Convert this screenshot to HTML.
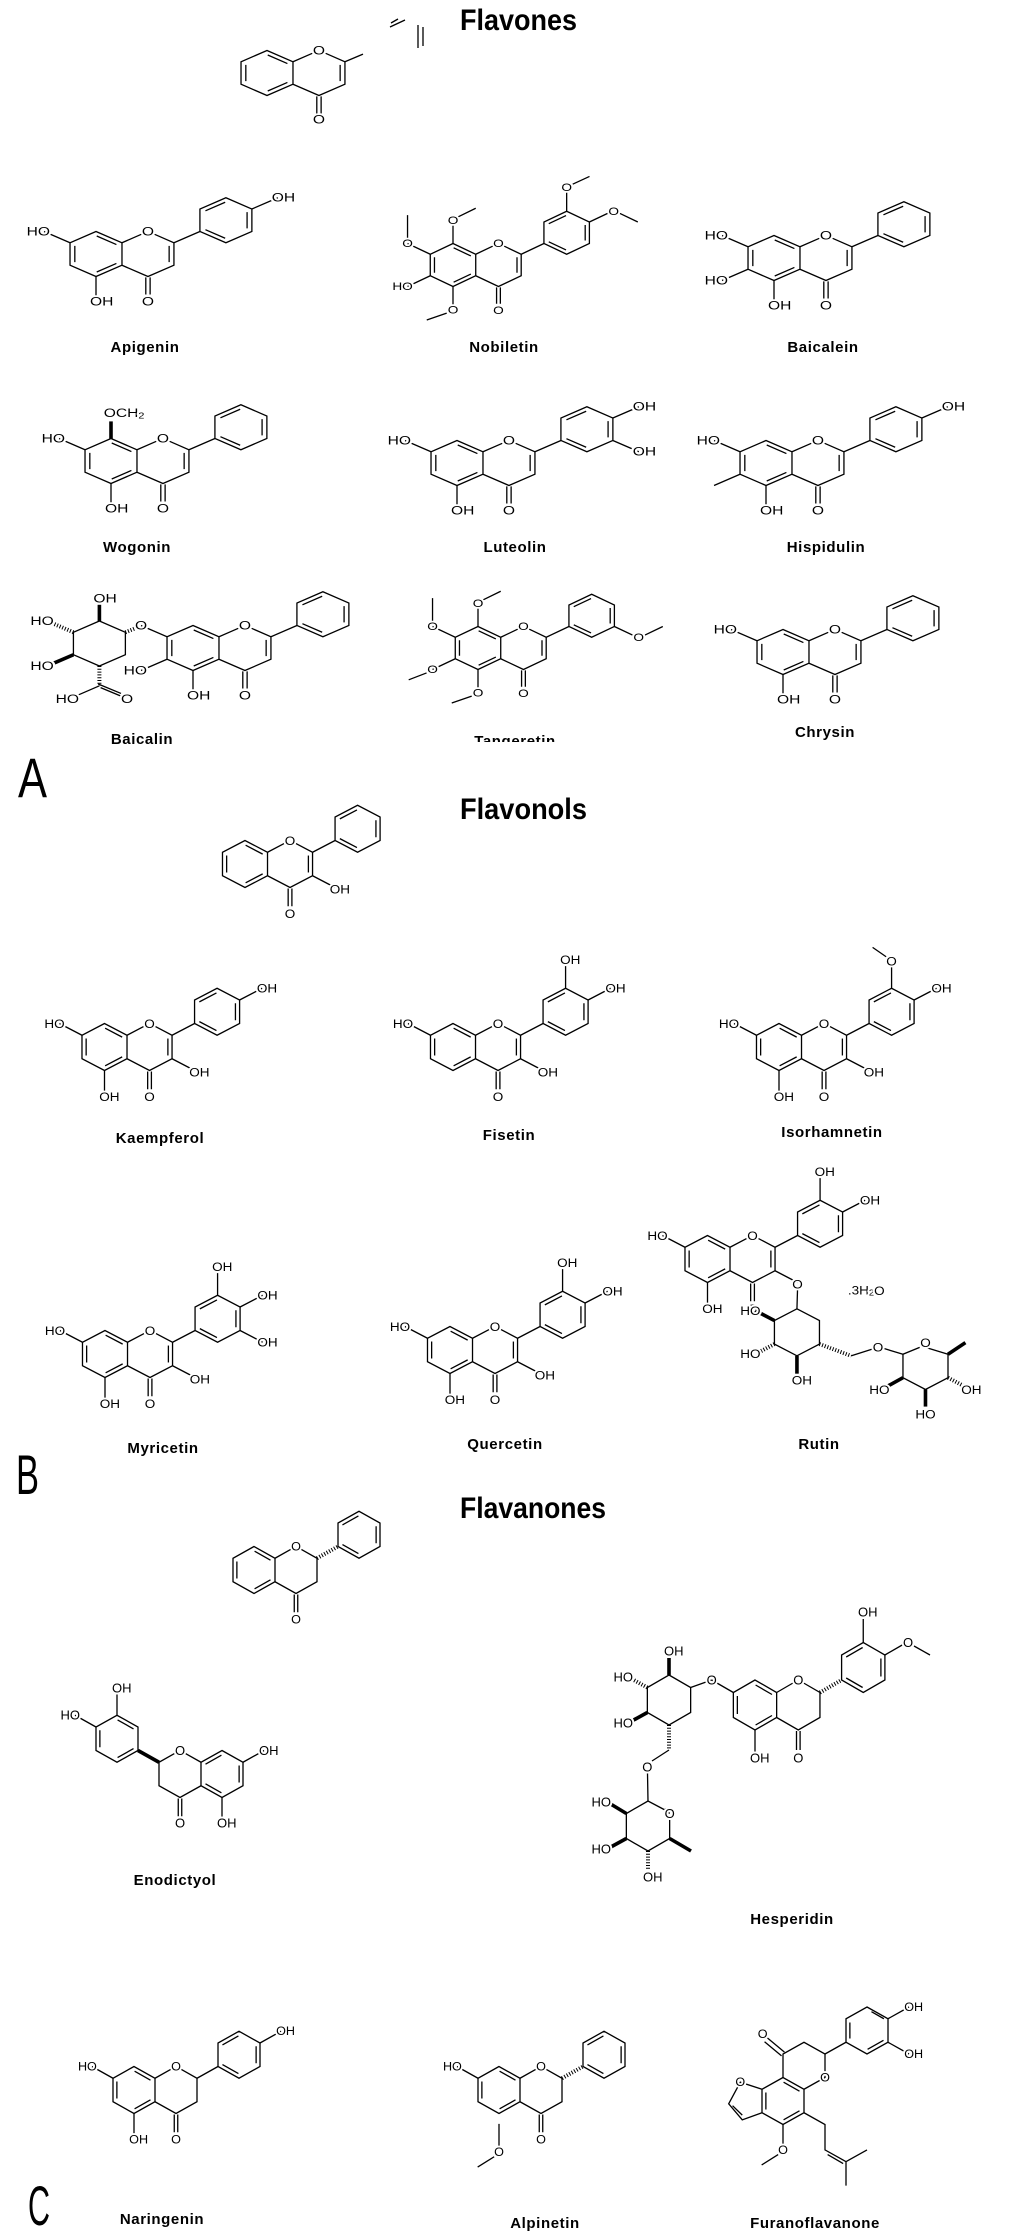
<!DOCTYPE html>
<html><head><meta charset="utf-8"><style>
html,body{margin:0;padding:0;background:#fff}
svg{display:block}
text{font-family:"Liberation Sans",sans-serif;fill:#000}
path,line{fill:none;stroke:#000;stroke-width:1.3;vector-effect:non-scaling-stroke}
.m text{font-size:13px;dominant-baseline:central;stroke:#fff;stroke-width:4px;paint-order:stroke;stroke-linejoin:round}
.m path.w{stroke-width:3.6}
.m path.h{stroke-width:4;stroke-dasharray:1 1.8}
.lbl{font-size:15px;font-weight:bold;text-anchor:middle;letter-spacing:0.6px}
.ttl{font-size:30px;font-weight:bold}
.big{font-size:56px}
</style></head><body>
<svg width="1011" height="2235" viewBox="0 0 1011 2235" xmlns="http://www.w3.org/2000/svg">
<defs>
<path id="rA" d="M0,-25 L-21.65,-12.5 L-21.65,12.5 L0,25 L21.65,12.5 L21.65,-12.5 Z M-17.65,-9 V9 M0.6,20 L17,10.5 M0.6,-20 L17,-10.5"/>
<path id="rC" d="M21.65,-12.5 L38,-22 M48.6,-22 L64.95,-12.5 L64.95,12.5 L43.3,25 L21.65,12.5 M41.5,26 V45 M45.1,26 V45"/>
<path id="dC" d="M60.95,-9 V9"/>
<path id="bB" d="M64.95,-12.5 L86.6,-25"/>
<path id="rB0" d="M86.6,-25 L86.6,-50 L108.25,-62.5 L129.9,-50 L129.9,-25 L108.25,-12.5 Z M91.2,-48 L107.65,-57.5 M125.9,-46.5 V-28.5 M107.65,-17.5 L91.2,-27"/>
<clipPath id="cl1"><rect x="0" y="780" width="382" height="200"/></clipPath>
</defs>

<!-- Titles -->
<text class="ttl" x="460" y="30" textLength="117" lengthAdjust="spacingAndGlyphs">Flavones</text>
<text class="ttl" x="460" y="819" textLength="127" lengthAdjust="spacingAndGlyphs">Flavonols</text>
<text class="ttl" x="460" y="1518" textLength="146" lengthAdjust="spacingAndGlyphs">Flavanones</text>
<text class="big" x="18" y="797" textLength="29" lengthAdjust="spacingAndGlyphs">A</text>
<text class="big" x="16" y="1494" textLength="23" lengthAdjust="spacingAndGlyphs">B</text>
<text class="big" x="28" y="2225" textLength="22" lengthAdjust="spacingAndGlyphs">C</text>

<!-- Flavone core -->
<g class="m" transform="translate(267,73) scale(1.2,0.9)">
<use href="#rA"/><use href="#rC"/><use href="#dC"/>
<path d="M64.95,-12.5 L80,-21"/>
<text x="43.3" y="-25" text-anchor="middle">O</text>
<text x="43.3" y="52" text-anchor="middle">O</text>
</g>
<path d="M390,27 L405,20 M391,23 L398,19 M418,25 V48 M423,27 V46"/>

<!-- Apigenin -->
<g class="m" transform="translate(96,254) scale(1.2,0.9)">
<use href="#rA"/><use href="#rC"/><use href="#dC"/><use href="#bB"/><use href="#rB0"/>
<path d="M-21.65,-12.5 L-43.3,-25 M0,25 V50 M129.9,-50 L151.55,-62.5"/>
<text x="43.3" y="-25" text-anchor="middle">O</text>
<text x="-38.3" y="-25" text-anchor="end">HO</text>
<text x="-5" y="53">OH</text>
<text x="43.3" y="53" text-anchor="middle">O</text>
<text x="146.5" y="-62.5">OH</text>
</g>
<text class="lbl" x="145" y="352">Apigenin</text>

<!-- Nobiletin -->
<g class="m" transform="translate(453,265) scale(1.05,0.86)">
<use href="#rA"/><use href="#rC"/><use href="#dC"/><use href="#bB"/><use href="#rB0"/>
<path d="M0,-25 V-50 M5,-56 L21.65,-66 M-21.65,-12.5 L-43.3,-25 M-43.3,-31 V-58 M-21.65,12.5 L-43.3,25 M0,25 V50 M-6,56 L-25,64 M108.25,-62.5 V-88 M114,-94 L130,-103 M129.9,-50 L151.55,-62.5 M159,-60 L176,-50"/>
<text x="43.3" y="-25" text-anchor="middle">O</text>
<text x="0" y="-52" text-anchor="middle">O</text>
<text x="-43.3" y="-25" text-anchor="middle">O</text>
<text x="-38.3" y="25" text-anchor="end">HO</text>
<text x="0" y="52" text-anchor="middle">O</text>
<text x="43.3" y="53" text-anchor="middle">O</text>
<text x="108.25" y="-90" text-anchor="middle">O</text>
<text x="153" y="-62.5" text-anchor="middle">O</text>
</g>
<text class="lbl" x="504" y="352">Nobiletin</text>

<!-- Baicalein -->
<g class="m" transform="translate(774,258) scale(1.2,0.9)">
<use href="#rA"/><use href="#rC"/><use href="#dC"/><use href="#bB"/><use href="#rB0"/>
<path d="M-21.65,-12.5 L-43.3,-25 M-21.65,12.5 L-43.3,25 M0,25 V50"/>
<text x="43.3" y="-25" text-anchor="middle">O</text>
<text x="-38.3" y="-25" text-anchor="end">HO</text>
<text x="-38.3" y="25" text-anchor="end">HO</text>
<text x="-5" y="53">OH</text>
<text x="43.3" y="53" text-anchor="middle">O</text>
</g>
<text class="lbl" x="823" y="352">Baicalein</text>

<!-- Wogonin -->
<g class="m" transform="translate(111,461) scale(1.2,0.9)">
<use href="#rA"/><use href="#rC"/><use href="#dC"/><use href="#bB"/><use href="#rB0"/>
<path class="w" d="M0,-25 V-44"/>
<path d="M-21.65,-12.5 L-43.3,-25 M0,25 V50"/>
<text x="43.3" y="-25" text-anchor="middle">O</text>
<text x="-6" y="-53">OCH<tspan font-size="9" dy="3">2</tspan></text>
<text x="-38.3" y="-25" text-anchor="end">HO</text>
<text x="-5" y="53">OH</text>
<text x="43.3" y="53" text-anchor="middle">O</text>
</g>
<text class="lbl" x="137" y="552">Wogonin</text>

<!-- Luteolin -->
<g class="m" transform="translate(457,463) scale(1.2,0.9)">
<use href="#rA"/><use href="#rC"/><use href="#dC"/><use href="#bB"/><use href="#rB0"/>
<path d="M-21.65,-12.5 L-43.3,-25 M0,25 V50 M129.9,-50 L151.55,-62.5 M129.9,-25 L151.55,-12.5"/>
<text x="43.3" y="-25" text-anchor="middle">O</text>
<text x="-38.3" y="-25" text-anchor="end">HO</text>
<text x="-5" y="53">OH</text>
<text x="43.3" y="53" text-anchor="middle">O</text>
<text x="146.5" y="-62.5">OH</text>
<text x="146.5" y="-12.5">OH</text>
</g>
<text class="lbl" x="515" y="552">Luteolin</text>

<!-- Hispidulin -->
<g class="m" transform="translate(766,463) scale(1.2,0.9)">
<use href="#rA"/><use href="#rC"/><use href="#dC"/><use href="#bB"/><use href="#rB0"/>
<path d="M-21.65,-12.5 L-43.3,-25 M-21.65,12.5 L-43.3,25 M0,25 V50 M129.9,-50 L151.55,-62.5"/>
<text x="43.3" y="-25" text-anchor="middle">O</text>
<text x="-38.3" y="-25" text-anchor="end">HO</text>
<text x="-5" y="53">OH</text>
<text x="43.3" y="53" text-anchor="middle">O</text>
<text x="146.5" y="-62.5">OH</text>
</g>
<text class="lbl" x="826" y="552">Hispidulin</text>

<!-- Baicalin -->
<g class="m" transform="translate(193,648) scale(1.2,0.9)">
<use href="#rA"/><use href="#rC"/><use href="#dC"/><use href="#bB"/><use href="#rB0"/>
<path d="M-21.65,-12.5 L-43.3,-25 M-21.65,12.5 L-43.3,25 M0,25 V50"/>
<path d="M-78,-30 L-56.35,-17.5 L-56.35,7.5 L-78,20 L-99.65,7.5 L-99.65,-17.5 Z"/>
<path class="h" d="M-56.35,-17.5 L-46,-23"/>
<path class="w" d="M-78,-30 V-48"/>
<path class="h" d="M-99.65,-17.5 L-118,-28"/>
<path class="w" d="M-99.65,7.5 L-118,18"/>
<path class="h" d="M-78,20 V42"/>
<path d="M-78,42 L-97,53 M-77,44 L-59,54 M-79,40 L-60,50.5"/>
<text x="43.3" y="-25" text-anchor="middle">O</text>
<text x="-43.3" y="-25" text-anchor="middle">O</text>
<text x="-38.3" y="25" text-anchor="end">HO</text>
<text x="-5" y="53">OH</text>
<text x="43.3" y="53" text-anchor="middle">O</text>
<text x="-83" y="-55">OH</text>
<text x="-116" y="-30" text-anchor="end">HO</text>
<text x="-116" y="20" text-anchor="end">HO</text>
<text x="-95" y="57" text-anchor="end">HO</text>
<text x="-55" y="57" text-anchor="middle">O</text>
</g>
<text class="lbl" x="142" y="744">Baicalin</text>

<!-- Tangeretin -->
<g class="m" transform="translate(478,648) scale(1.05,0.86)">
<use href="#rA"/><use href="#rC"/><use href="#dC"/><use href="#bB"/><use href="#rB0"/>
<path d="M0,-25 V-50 M5,-56 L21.65,-66 M-21.65,-12.5 L-43.3,-25 M-43.3,-31 V-58 M-21.65,12.5 L-43.3,25 M-49,29 L-66,37 M0,25 V50 M-6,56 L-25,64 M129.9,-25 L151.55,-12.5 M159,-15 L176,-25"/>
<text x="43.3" y="-25" text-anchor="middle">O</text>
<text x="0" y="-52" text-anchor="middle">O</text>
<text x="-43.3" y="-25" text-anchor="middle">O</text>
<text x="-43.3" y="25" text-anchor="middle">O</text>
<text x="0" y="52" text-anchor="middle">O</text>
<text x="43.3" y="53" text-anchor="middle">O</text>
<text x="153" y="-12.5" text-anchor="middle">O</text>
</g>
<text class="lbl" x="515" y="746">Tangeretin</text>
<rect x="450" y="742" width="130" height="12" fill="#fff"/>

<!-- Chrysin -->
<g class="m" transform="translate(783,652) scale(1.2,0.9)">
<use href="#rA"/><use href="#rC"/><use href="#dC"/><use href="#bB"/><use href="#rB0"/>
<path d="M-21.65,-12.5 L-43.3,-25 M0,25 V50"/>
<text x="43.3" y="-25" text-anchor="middle">O</text>
<text x="-38.3" y="-25" text-anchor="end">HO</text>
<text x="-5" y="53">OH</text>
<text x="43.3" y="53" text-anchor="middle">O</text>
</g>
<text class="lbl" x="825" y="737">Chrysin</text>

<!-- Flavonol core -->
<g clip-path="url(#cl1)">
<g class="m" transform="translate(245,864) scale(1.04,0.94)">
<use href="#rA"/><use href="#rC"/><use href="#dC"/><use href="#bB"/><use href="#rB0"/>
<path d="M64.95,12.5 L86.6,25"/>
<text x="43.3" y="-25" text-anchor="middle">O</text>
<text x="43.3" y="53" text-anchor="middle">O</text>
<text x="81.5" y="27">OH</text>
</g></g>

<!-- Kaempferol -->
<g class="m" transform="translate(104.5,1047) scale(1.04,0.94)">
<use href="#rA"/><use href="#rC"/><use href="#dC"/><use href="#bB"/><use href="#rB0"/>
<path d="M-21.65,-12.5 L-43.3,-25 M0,25 V50 M64.95,12.5 L86.6,25 M129.9,-50 L151.55,-62.5"/>
<text x="43.3" y="-25" text-anchor="middle">O</text>
<text x="-38.3" y="-25" text-anchor="end">HO</text>
<text x="-5" y="53">OH</text>
<text x="43.3" y="53" text-anchor="middle">O</text>
<text x="81.5" y="27">OH</text>
<text x="146.5" y="-62.5">OH</text>
</g>
<text class="lbl" x="160" y="1143">Kaempferol</text>

<!-- Fisetin -->
<g class="m" transform="translate(453,1047) scale(1.04,0.94)">
<use href="#rA"/><use href="#rC"/><use href="#dC"/><use href="#bB"/><use href="#rB0"/>
<path d="M-21.65,-12.5 L-43.3,-25 M64.95,12.5 L86.6,25 M129.9,-50 L151.55,-62.5 M108.25,-62.5 V-86"/>
<text x="43.3" y="-25" text-anchor="middle">O</text>
<text x="-38.3" y="-25" text-anchor="end">HO</text>
<text x="43.3" y="53" text-anchor="middle">O</text>
<text x="81.5" y="27">OH</text>
<text x="146.5" y="-62.5">OH</text>
<text x="103" y="-93">OH</text>
</g>
<text class="lbl" x="509" y="1140">Fisetin</text>

<!-- Isorhamnetin -->
<g class="m" transform="translate(779,1047) scale(1.04,0.94)">
<use href="#rA"/><use href="#rC"/><use href="#dC"/><use href="#bB"/><use href="#rB0"/>
<path d="M-21.65,-12.5 L-43.3,-25 M0,25 V50 M64.95,12.5 L86.6,25 M129.9,-50 L151.55,-62.5 M108.25,-62.5 V-86 M103,-96 L90,-106"/>
<text x="43.3" y="-25" text-anchor="middle">O</text>
<text x="-38.3" y="-25" text-anchor="end">HO</text>
<text x="-5" y="53">OH</text>
<text x="43.3" y="53" text-anchor="middle">O</text>
<text x="81.5" y="27">OH</text>
<text x="146.5" y="-62.5">OH</text>
<text x="108.25" y="-91" text-anchor="middle">O</text>
</g>
<text class="lbl" x="832" y="1137">Isorhamnetin</text>

<!-- Myricetin -->
<g class="m" transform="translate(105,1354) scale(1.04,0.94)">
<use href="#rA"/><use href="#rC"/><use href="#dC"/><use href="#bB"/><use href="#rB0"/>
<path d="M-21.65,-12.5 L-43.3,-25 M0,25 V50 M64.95,12.5 L86.6,25 M129.9,-50 L151.55,-62.5 M108.25,-62.5 V-86 M129.9,-25 L151.55,-12.5"/>
<text x="43.3" y="-25" text-anchor="middle">O</text>
<text x="-38.3" y="-25" text-anchor="end">HO</text>
<text x="-5" y="53">OH</text>
<text x="43.3" y="53" text-anchor="middle">O</text>
<text x="81.5" y="27">OH</text>
<text x="146.5" y="-62.5">OH</text>
<text x="146.5" y="-12.5">OH</text>
<text x="103" y="-93">OH</text>
</g>
<text class="lbl" x="163" y="1453">Myricetin</text>

<!-- Quercetin -->
<g class="m" transform="translate(450,1350) scale(1.04,0.94)">
<use href="#rA"/><use href="#rC"/><use href="#dC"/><use href="#bB"/><use href="#rB0"/>
<path d="M-21.65,-12.5 L-43.3,-25 M0,25 V50 M64.95,12.5 L86.6,25 M129.9,-50 L151.55,-62.5 M108.25,-62.5 V-86"/>
<text x="43.3" y="-25" text-anchor="middle">O</text>
<text x="-38.3" y="-25" text-anchor="end">HO</text>
<text x="-5" y="53">OH</text>
<text x="43.3" y="53" text-anchor="middle">O</text>
<text x="81.5" y="27">OH</text>
<text x="146.5" y="-62.5">OH</text>
<text x="103" y="-93">OH</text>
</g>
<text class="lbl" x="505" y="1449">Quercetin</text>

<!-- Rutin -->
<g class="m" transform="translate(707.5,1259) scale(1.04,0.94)">
<use href="#rA"/><use href="#rC"/><use href="#dC"/><use href="#bB"/><use href="#rB0"/>
<path d="M-21.65,-12.5 L-43.3,-25 M0,25 V50 M64.95,12.5 L86.6,25 M129.9,-50 L151.55,-62.5 M108.25,-62.5 V-86 M86.6,31 L86,53"/>
<path d="M86,53 L107.65,65.5 L107.65,90.5 L86,103 L64.35,90.5 L64.35,65.5 Z"/>
<path class="w" d="M64.35,65.5 L48,56"/>
<path class="h" d="M64.35,90.5 L48,100"/>
<path class="w" d="M86,103 V122"/>
<path class="h" d="M107.65,90.5 L138,103"/>
<path d="M138,103 L158,96 M169,95 L187.95,101.3"/>
<path d="M209.6,94 L231.25,101.3 L231.25,126.3 L209.6,138.8 L187.95,126.3 L187.95,101.3 L204,94"/>
<path class="w" d="M231.25,101.3 L248,89"/>
<path class="h" d="M231.25,126.3 L248,136"/>
<path class="w" d="M209.6,138.8 V157"/>
<path class="w" d="M187.95,126.3 L172,136"/>
<text x="43.3" y="-25" text-anchor="middle">O</text>
<text x="-38.3" y="-25" text-anchor="end">HO</text>
<text x="-5" y="53">OH</text>
<text x="43.3" y="53" text-anchor="middle">O</text>
<text x="86.6" y="27" text-anchor="middle">O</text>
<text x="146.5" y="-62.5">OH</text>
<text x="103" y="-93">OH</text>
<text x="135" y="33">.3H<tspan font-size="9" dy="3">2</tspan><tspan dy="-3">O</tspan></text>
<text x="51" y="55" text-anchor="end">HO</text>
<text x="51" y="101" text-anchor="end">HO</text>
<text x="81" y="129">OH</text>
<text x="164" y="94" text-anchor="middle">O</text>
<text x="209.6" y="89" text-anchor="middle">O</text>
<text x="244" y="139">OH</text>
<text x="209.6" y="165" text-anchor="middle">HO</text>
<text x="175" y="139" text-anchor="end">HO</text>
</g>
<text class="lbl" x="819" y="1449">Rutin</text>

<!-- Flavanone core -->
<g class="m" transform="translate(254,1570) scale(0.97,0.94)">
<use href="#rA"/><use href="#rC"/><use href="#rB0"/>
<path class="h" d="M64.95,-12.5 L86.6,-25"/>
<text x="43.3" y="-25" text-anchor="middle">O</text>
<text x="43.3" y="53" text-anchor="middle">O</text>
</g>

<!-- Enodictyol (mirrored) -->
<g class="m" transform="translate(222,1774) scale(-0.97,0.94)">
<use href="#rA"/><use href="#rC"/><use href="#rB0"/>
<path class="w" d="M64.95,-12.5 L86.6,-25"/>
<path d="M-21.65,-12.5 L-43.3,-25 M0,25 V50 M129.9,-50 L151.55,-62.5 M108.25,-62.5 V-86"/>
</g>
<g class="m">
<text x="180" y="1750.5" text-anchor="middle">O</text>
<text x="259" y="1750.5">OH</text>
<text x="217" y="1823">OH</text>
<text x="180" y="1823" text-anchor="middle">O</text>
<text x="112" y="1688">OH</text>
<text x="80" y="1715" text-anchor="end">HO</text>
</g>
<text class="lbl" x="175" y="1885">Enodictyol</text>

<!-- Hesperidin -->
<g class="m" transform="translate(755,1705)">
<use href="#rA"/><use href="#rC"/><use href="#rB0"/>
<path class="h" d="M64.95,-12.5 L86.6,-25"/>
<path d="M-21.65,-12.5 L-43.3,-25 M0,25 V50 M108.25,-62.5 V-86 M129.9,-50 L151.55,-62.5 M159,-59 L175,-50"/>
<path d="M-86,-30 L-64.35,-17.5 L-64.35,7.5 L-86,20 L-107.65,7.5 L-107.65,-17.5 Z M-64.35,-17.5 L-43.3,-25"/>
<path class="w" d="M-86,-30 V-47"/>
<path class="h" d="M-107.65,-17.5 L-125,-27"/>
<path class="w" d="M-107.65,7.5 L-125,17"/>
<path class="h" d="M-86,20 V45"/>
<path d="M-86,45 L-103,56 M-107.5,68 L-107,96"/>
<path d="M-90,103.5 L-85.35,108.5 M-85.35,114 L-85.35,133.5 L-107,146 L-128.65,133.5 L-128.65,108.5 L-107,96 L-90,105"/>
<path class="w" d="M-128.65,108.5 L-146,98"/>
<path class="w" d="M-128.65,133.5 L-146,143"/>
<path class="h" d="M-107,146 V165"/>
<path class="w" d="M-85.35,133.5 L-64,146"/>
<text x="43.3" y="-25" text-anchor="middle">O</text>
<text x="-43.3" y="-25" text-anchor="middle">O</text>
<text x="-5" y="53">OH</text>
<text x="43.3" y="53" text-anchor="middle">O</text>
<text x="103" y="-93">OH</text>
<text x="153" y="-62.5" text-anchor="middle">O</text>
<text x="-91" y="-54">OH</text>
<text x="-122" y="-28" text-anchor="end">HO</text>
<text x="-122" y="18" text-anchor="end">HO</text>
<text x="-107.65" y="62" text-anchor="middle">O</text>
<text x="-85.35" y="108.5" text-anchor="middle">O</text>
<text x="-144" y="97" text-anchor="end">HO</text>
<text x="-144" y="144" text-anchor="end">HO</text>
<text x="-112" y="172">OH</text>
</g>
<text class="lbl" x="792" y="1924">Hesperidin</text>

<!-- Naringenin -->
<g class="m" transform="translate(134,2090) scale(0.97,0.94)">
<use href="#rA"/><use href="#rC"/><use href="#bB"/><use href="#rB0"/>
<path d="M-21.65,-12.5 L-43.3,-25 M0,25 V50 M129.9,-50 L151.55,-62.5"/>
<text x="43.3" y="-25" text-anchor="middle">O</text>
<text x="-38.3" y="-25" text-anchor="end">HO</text>
<text x="-5" y="53">OH</text>
<text x="43.3" y="53" text-anchor="middle">O</text>
<text x="146.5" y="-62.5">OH</text>
</g>
<text class="lbl" x="162" y="2224">Naringenin</text>

<!-- Alpinetin -->
<g class="m" transform="translate(499,2090) scale(0.97,0.94)">
<use href="#rA"/><use href="#rC"/><use href="#rB0"/>
<path class="h" d="M64.95,-12.5 L86.6,-25"/>
<path d="M-21.65,-12.5 L-43.3,-25 M0,36 V60 M-5,71 L-22,82"/>
<text x="43.3" y="-25" text-anchor="middle">O</text>
<text x="-38.3" y="-25" text-anchor="end">HO</text>
<text x="43.3" y="53" text-anchor="middle">O</text>
<text x="0" y="66" text-anchor="middle">O</text>
</g>
<text class="lbl" x="545" y="2228">Alpinetin</text>

<!-- Furanoflavanone -->
<g class="m" transform="translate(783,2101) scale(0.97,0.94)">
<use href="#rA"/>
<path d="M21.65,-12.5 L43.3,-25 L43.3,-50 L21.65,-62.5 L0,-50 L0,-25 M-1.5,-48 L-19,-63 M1.5,-52 L-16,-67"/>
<path d="M43.3,-50 L64.95,-62.5 M86.6,-100 L108.25,-87.5 L108.25,-62.5 L86.6,-50 L64.95,-62.5 L64.95,-87.5 Z M68.95,-83.5 V-66.5 M91.2,-95 L104,-87.5 M87.2,-55 L103.6,-64.5"/>
<path d="M108.25,-87.5 L129.9,-100 M108.25,-62.5 L129.9,-50"/>
<path d="M-21.65,-12.5 L-44,-20 L-56,3 L-42,20 L-21.65,12.5 M-52,5 L-42,15"/>
<path d="M0,25 V48 M-5,57 L-22,68"/>
<path d="M21.65,12.5 L43.3,25 L43.3,52 L64.95,64.5 L86.6,52 M64.95,64.5 L64.95,90 M46,57 L62,66.5"/>
<text x="43.3" y="-25" text-anchor="middle">O</text>
<text x="-21" y="-71" text-anchor="middle">O</text>
<text x="-44" y="-20" text-anchor="middle">O</text>
<text x="0" y="52" text-anchor="middle">O</text>
<text x="125" y="-100">OH</text>
<text x="125" y="-50">OH</text>
</g>
<text class="lbl" x="815" y="2228">Furanoflavanone</text>
</svg>
</body></html>
